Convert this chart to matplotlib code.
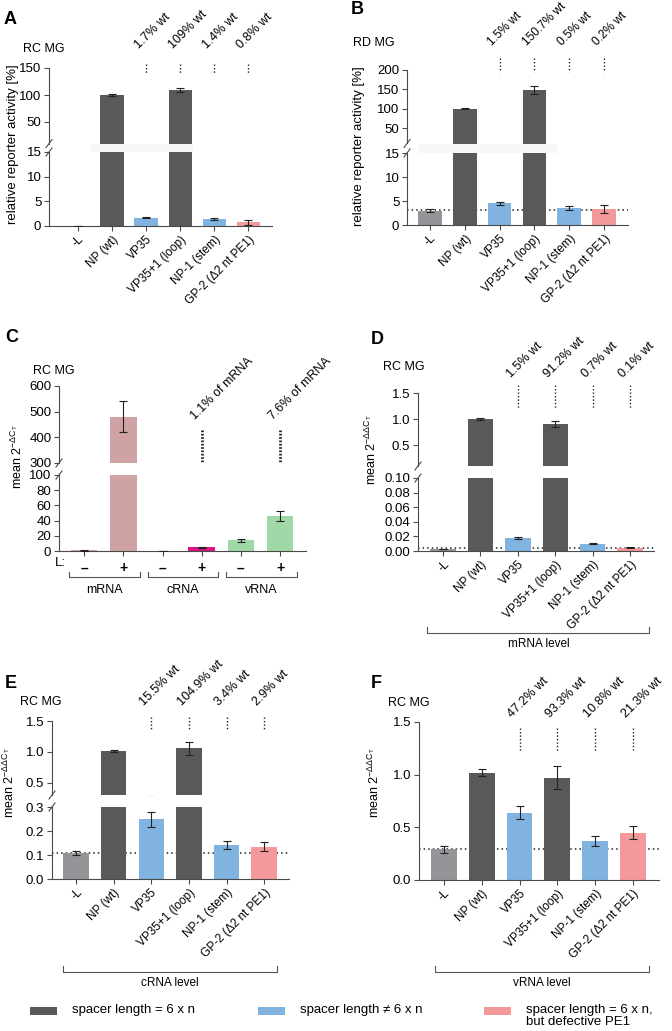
import matplotlib.pyplot as plt
from matplotlib.transforms import blended_transform_factory, offset_copy
from matplotlib.patches import Rectangle
from matplotlib.lines import Line2D

# =====================================================
# DATA
# =====================================================

constructs = ["-L", "NP (wt)", "VP35", "VP35+1 (loop)", "NP-1 (stem)", "GP-2 (Δ2 nt PE1)"]
annot_idx = [2, 3, 4, 5]

a_mean = [0.0, 100.0, 1.7, 109.0, 1.4, 0.8]
a_err = [0.05, 2.0, 0.15, 3.5, 0.15, 0.5]
a_pct = ["1.7% wt", "109% wt", "1.4% wt", "0.8% wt"]

b_mean = [3.0, 100.0, 4.5, 149.0, 3.5, 3.3]
b_err = [0.3, 2.0, 0.3, 10.0, 0.4, 0.8]
b_base = 3.1
b_pct = ["1.5% wt", "150.7% wt", "0.5% wt", "0.2% wt"]

c_groups = ["mRNA", "cRNA", "vRNA"]
c_L = ["–", "+", "–", "+", "–", "+"]
c_mean = [1.0, 480.0, 0.3, 5.0, 14.0, 46.0]
c_err = [0.6, 60.0, 0.2, 0.6, 2.0, 7.0]
c_pct = ["1.1% of mRNA", "7.6% of mRNA"]

d_mean = [0.003, 1.0, 0.018, 0.91, 0.010, 0.0045]
d_err = [0.0003, 0.012, 0.0018, 0.06, 0.0007, 0.0004]
d_base = 0.004
d_pct = ["1.5% wt", "91.2% wt", "0.7% wt", "0.1% wt"]

e_mean = [0.108, 1.01, 0.248, 1.055, 0.140, 0.135]
e_err = [0.01, 0.02, 0.03, 0.11, 0.017, 0.02]
e_base = 0.11
e_pct = ["15.5% wt", "104.9% wt", "3.4% wt", "2.9% wt"]

f_mean = [0.29, 1.02, 0.64, 0.97, 0.37, 0.45]
f_err = [0.03, 0.035, 0.06, 0.11, 0.05, 0.065]
f_base = 0.295
f_pct = ["47.2% wt", "93.3% wt", "10.8% wt", "21.3% wt"]

legend_labels = ["spacer length = 6 x n", "spacer length ≠ 6 x n",
                 "spacer length = 6 x n,\nbut defective PE1"]

# =====================================================
# STYLE
# =====================================================

plt.rcParams['font.family'] = ['Liberation Sans', 'DejaVu Sans']

DARK = '#58595b'
GREY = '#939598'
BLUE = '#80b3e0'
PINK = '#f4999b'
AXC = '#4a4a4a'
bar_colors = [GREY, DARK, BLUE, DARK, BLUE, PINK]
c_colors = ['#cfa2a3', '#cfa2a3', '#d9157f', '#d9157f', '#a0d8a7', '#a0d8a7']

W, H = 672, 1031
fig = plt.figure(figsize=(6.72, 10.31), dpi=100)


def fy(y):
    return 1 - y / H


def px_ax(x0, x1, y0, y1):
    return fig.add_axes([x0 / W, 1 - y1 / H, (x1 - x0) / W, (y1 - y0) / H])


def style(ax, xlim, ylim, yticks, fmt, bottom=True):
    ax.set_xlim(xlim)
    ax.set_ylim(ylim)
    ax.patch.set_visible(False)
    for s in ['top', 'right']:
        ax.spines[s].set_visible(False)
    for s in ['left', 'bottom']:
        ax.spines[s].set_color(AXC)
        ax.spines[s].set_linewidth(0.8)
    if not bottom:
        ax.spines['bottom'].set_visible(False)
        ax.set_xticks([])
    ax.set_yticks(yticks)
    ax.set_yticklabels([fmt.format(v) for v in yticks])
    ax.tick_params(length=3.5, width=0.8, color=AXC, labelsize=9.5, pad=2)


def draw_bars(ax, mean, err, colors):
    x = list(range(len(mean)))
    ax.bar(x, mean, width=0.68, color=colors, zorder=2)
    ax.errorbar(x, mean, yerr=err, fmt='none', ecolor='#222222',
                elinewidth=0.8, capsize=2.8, capthick=0.8, zorder=3)


def construct_ticks(ax):
    ax.set_xticks(range(len(constructs)))
    ax.set_xticklabels(constructs, rotation=45, ha='right',
                       rotation_mode='anchor', fontsize=8.5)


def break_marks(ax_top, ax_bot):
    x = ax_top.get_position().x0
    for y in [ax_top.get_position().y0, ax_bot.get_position().y1]:
        fig.add_artist(Line2D([x - 3 / W, x + 3 / W], [y - 4 / H, y + 4 / H],
                              color=AXC, lw=0.8))


def gap_band(ax, x0, x1, y0, y1):
    tr = blended_transform_factory(ax.transData, fig.transFigure)
    fig.add_artist(Rectangle((x0, fy(y1)), x1 - x0, fy(y0) - fy(y1),
                             transform=tr, color='#f7f7f7', lw=0))


def annotate(ax, idx, labels, line_y, text_y, lw=1.0, dash=(1, 1.5), fs=9):
    tr = blended_transform_factory(ax.transData, fig.transFigure)
    ttr = offset_copy(tr, fig=fig, x=-5, y=0, units='dots')
    for i, lab in zip(idx, labels):
        ax.plot([i, i], [fy(line_y[0]), fy(line_y[1])], transform=tr,
                clip_on=False, color='#222222', lw=lw, ls=(0, dash))
        ax.text(i, fy(text_y), lab, transform=ttr, rotation=45, ha='left',
                va='bottom', rotation_mode='anchor', fontsize=fs)


def baseline(ax, v):
    ax.axhline(v, color='#222222', lw=1.1, ls=(0, (1, 2)), zorder=1)


def level_bracket(ax, x0, x1, y, label):
    tr = blended_transform_factory(ax.transAxes, fig.transFigure)
    fig.add_artist(Line2D([x0, x0, x1, x1], [fy(y - 6), fy(y), fy(y), fy(y - 6)],
                          transform=tr, color='#555555', lw=0.8))
    fig.text((ax.get_position().x0 + ax.get_position().width * (x0 + x1) / 2),
             fy(y + 11), label, ha='center', va='center', fontsize=8.5)


def panel_text(letter, x, y, tag, tx, ty):
    fig.text(x / W, fy(y), letter, fontsize=13, fontweight='bold', va='center')
    fig.text(tx / W, fy(ty), tag, fontsize=9, va='center')


YL2 = r"mean 2$^{\mathregular{-ΔΔC_T}}$"

# =====================================================
# PANEL A
# =====================================================

at = px_ax(49, 272, 68, 143.6)
ab = px_ax(49, 272, 152, 226)
for ax in [at, ab]:
    draw_bars(ax, a_mean, a_err, bar_colors)
style(at, (-0.85, 5.7), (10, 150), [50, 100, 150], "{:g}", bottom=False)
style(ab, (-0.85, 5.7), (0, 15), [0, 5, 10, 15], "{:g}")
construct_ticks(ab)
break_marks(at, ab)
gap_band(ab, 0.35, 3.38, 143.6, 152)
annotate(at, annot_idx, a_pct, (64, 73), 51)
panel_text("A", 4, 19, "RC MG", 23, 49)
fig.text(13 / W, fy(144), "relative reporter activity [%]", rotation=90,
         ha='center', va='center', fontsize=9.5)

# =====================================================
# PANEL B
# =====================================================

bt = px_ax(407, 628, 70, 143.5)
bb = px_ax(407, 628, 153, 225)
for ax in [bt, bb]:
    draw_bars(ax, b_mean, b_err, bar_colors)
style(bt, (-0.66, 5.69), (10, 200), [50, 100, 150, 200], "{:g}", bottom=False)
style(bb, (-0.66, 5.69), (0, 15), [0, 5, 10, 15], "{:g}")
baseline(bb, b_base)
construct_ticks(bb)
break_marks(bt, bb)
gap_band(bb, -0.32, 3.68, 143.5, 153)
annotate(bt, annot_idx, b_pct, (58, 72), 48, fs=8.6)
panel_text("B", 351, 10, "RD MG", 353, 43)
fig.text(359 / W, fy(146), "relative reporter activity [%]", rotation=90,
         ha='center', va='center', fontsize=9.5)

# =====================================================
# PANEL C
# =====================================================

ct = px_ax(59, 306, 386, 463)
cb = px_ax(59, 306, 475, 551)
for ax in [ct, cb]:
    draw_bars(ax, c_mean, c_err, c_colors)
style(ct, (-0.64, 5.66), (300, 600), [300, 400, 500, 600], "{:g}", bottom=False)
style(cb, (-0.64, 5.66), (0, 100), [0, 20, 40, 60, 80, 100], "{:g}")
cb.set_xticks(range(len(c_L)))
cb.set_xticklabels(c_L, fontsize=10, fontweight='bold')
cb.tick_params(axis='x', pad=4)
break_marks(ct, cb)
annotate(ct, [3, 5], c_pct, (430, 463), 422, lw=2.0, dash=(0.6, 0.6))
panel_text("C", 5, 338, "RC MG", 33, 371)
fig.text(60 / W, fy(563), "L:", ha='center', va='center', fontsize=9.5)
trc = blended_transform_factory(cb.transData, fig.transFigure)
for g, name in enumerate(c_groups):
    x0, x1 = 2 * g - 0.38, 2 * g + 1.42
    fig.add_artist(Line2D([x0, x0, x1, x1], [fy(572), fy(577), fy(577), fy(572)],
                          transform=trc, color='#555555', lw=0.8))
    cb.text((x0 + x1) / 2, fy(590), name, transform=trc, ha='center',
            va='center', fontsize=9)
fig.text(17 / W, fy(457), r"mean 2$^{\mathregular{-ΔC_T}}$", rotation=90,
         ha='center', va='center', fontsize=9)

# =====================================================
# PANEL D
# =====================================================

dt = px_ax(418, 654, 393, 466)
db = px_ax(418, 654, 478, 551)
for ax in [dt, db]:
    draw_bars(ax, d_mean, d_err, bar_colors)
style(dt, (-0.67, 5.64), (0.1, 1.5), [0.5, 1.0, 1.5], "{:.1f}", bottom=False)
style(db, (-0.67, 5.64), (0, 0.1), [0, 0.02, 0.04, 0.06, 0.08, 0.10], "{:.2f}")
baseline(db, d_base)
construct_ticks(db)
break_marks(dt, db)
annotate(dt, annot_idx, d_pct, (385, 409), 380)
panel_text("D", 371, 339, "RC MG", 383, 367)
level_bracket(db, 0.04, 0.98, 633, "mRNA level")
fig.text(371 / W, fy(450), YL2, rotation=90, ha='center', va='center', fontsize=9)

# =====================================================
# PANEL E
# =====================================================

et = px_ax(52, 289, 721, 795)
eb = px_ax(52, 289, 807, 879)
for ax in [et, eb]:
    draw_bars(ax, e_mean, e_err, bar_colors)
style(et, (-0.64, 5.66), (0.3, 1.5), [0.5, 1.0, 1.5], "{:.1f}", bottom=False)
style(eb, (-0.64, 5.66), (0, 0.3), [0.0, 0.1, 0.2, 0.3], "{:.1f}")
baseline(eb, e_base)
construct_ticks(eb)
break_marks(et, eb)
annotate(et, annot_idx, e_pct, (717, 730), 708)
panel_text("E", 5, 683, "RC MG", 20, 702)
level_bracket(eb, 0.046, 0.95, 972, "cRNA level")
fig.text(9 / W, fy(783), YL2, rotation=90, ha='center', va='center', fontsize=9)

# =====================================================
# PANEL F
# =====================================================

fa = px_ax(419, 659, 722, 880)
draw_bars(fa, f_mean, f_err, bar_colors)
style(fa, (-0.66, 5.69), (0, 1.5), [0.0, 0.5, 1.0, 1.5], "{:.1f}")
baseline(fa, f_base)
construct_ticks(fa)
annotate(fa, annot_idx, f_pct, (728, 752), 720)
panel_text("F", 371, 684, "RC MG", 388, 703)
level_bracket(fa, 0.067, 0.96, 972, "vRNA level")
fig.text(374 / W, fy(783), YL2, rotation=90, ha='center', va='center', fontsize=9)

# =====================================================
# LEGEND
# =====================================================

for x, col, lab in zip([30, 258, 484], [DARK, BLUE, PINK], legend_labels):
    fig.add_artist(Rectangle((x / W, fy(1015)), 27 / W, 8 / H,
                             transform=fig.transFigure, color=col, lw=0))
    fig.text((x + 42) / W, fy(1004), lab, ha='left', va='top', fontsize=9.5,
             linespacing=1.05)

fig.savefig("out.png", dpi=100)
